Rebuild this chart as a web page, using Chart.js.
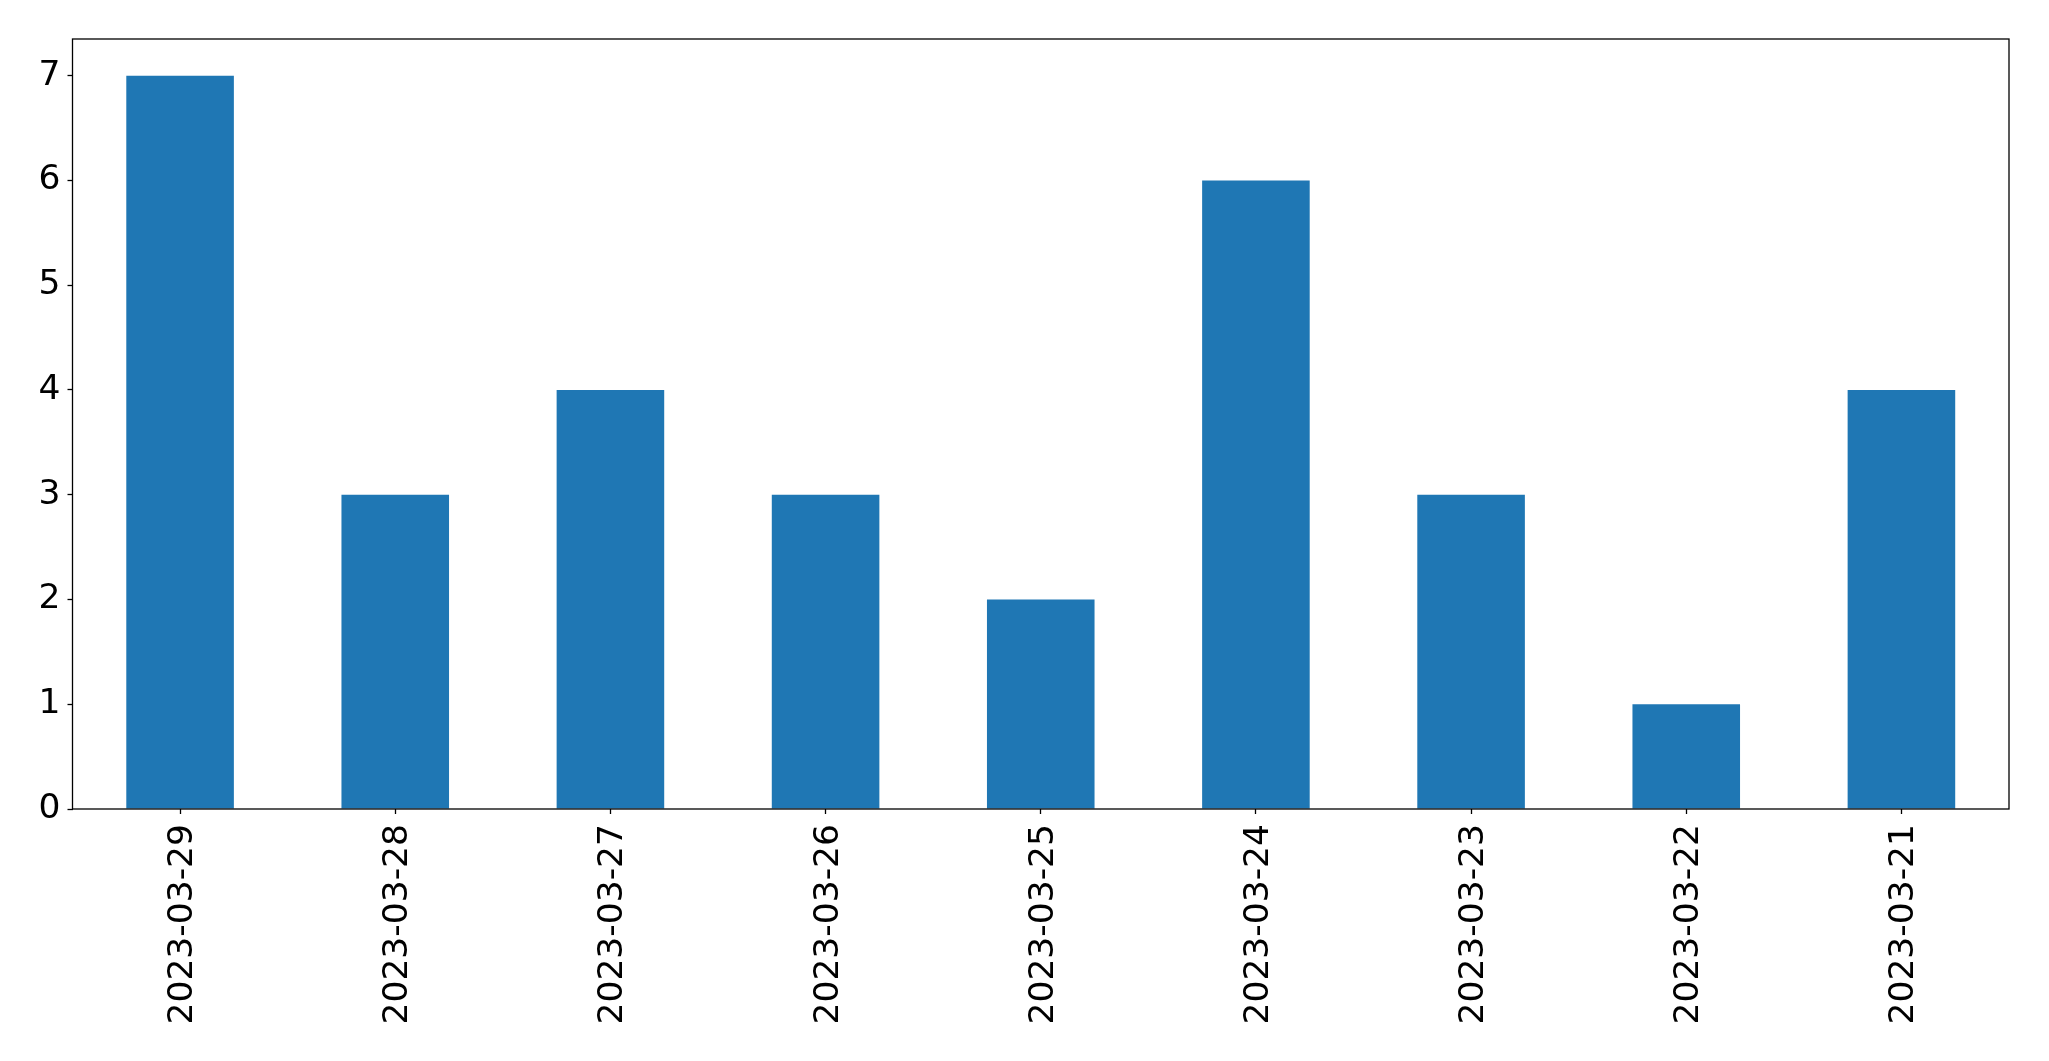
<!DOCTYPE html>
<html>
<head>
<meta charset="utf-8">
<script src="https://cdn.jsdelivr.net/npm/chart.js@4"></script>
<style>
  html, body { margin: 0; padding: 0; background: #fff; }
  #wrap { width: 2049px; height: 1061px; }
</style>
</head>
<body>
<div id="wrap"><canvas id="barChart"></canvas></div>
<script>
const aLabels = ["2023-03-29", "2023-03-28", "2023-03-27", "2023-03-26", "2023-03-25",
                 "2023-03-24", "2023-03-23", "2023-03-22", "2023-03-21"];
const aCounts = [7, 3, 4, 3, 2, 6, 3, 1, 4];
const aYTicks = [0, 1, 2, 3, 4, 5, 6, 7];

const sFont = "'DejaVu Sans', sans-serif";

// box round the plot area, like the matplotlib frame
const frameBox = {
    id: "frameBox",
    afterDraw(chart) {
        const a = chart.chartArea;
        const ctx = chart.ctx;
        ctx.save();
        ctx.strokeStyle = "#000";
        ctx.lineWidth = 1.3;
        ctx.strokeRect(a.left, a.top, a.right - a.left, a.bottom - a.top);
        ctx.restore();
    }
};

let config = {
    type: "bar",
    data: {
        labels: aLabels,
        datasets: [{
            data: aCounts,
            backgroundColor: "#1f77b4",
            borderWidth: 0,
            barPercentage: 0.5,
            categoryPercentage: 1.0
        }]
    },
    options: {
        responsive: true,
        maintainAspectRatio: false,
        animation: false,
        layout: {
            padding: { top: 39, right: 40, left: 0, bottom: 0 }
        },
        plugins: {
            legend: { display: false },
            tooltip: { enabled: false }
        },
        scales: {
            x: {
                border: { display: false },
                grid: {
                    offset: false,
                    drawOnChartArea: false,
                    drawTicks: true,
                    tickLength: 5,
                    tickWidth: 1.3,
                    tickColor: "#000"
                },
                ticks: {
                    autoSkip: false,
                    maxRotation: 90,
                    minRotation: 90,
                    padding: 10,
                    labelOffset: 3,
                    color: "#000",
                    font: { family: sFont, size: 34.5 }
                },
                afterFit(scale) { scale.height = 252; }
            },
            y: {
                min: 0,
                max: 7.35,
                border: { display: false },
                grid: {
                    drawOnChartArea: false,
                    drawTicks: true,
                    tickLength: 5,
                    tickWidth: 1.3,
                    tickColor: "#000"
                },
                ticks: {
                    padding: 7,
                    color: "#000",
                    font: { family: sFont, size: 34.5 }
                },
                afterBuildTicks(scale) {
                    scale.ticks = aYTicks.map(v => ({ value: v }));
                },
                afterFit(scale) { scale.width = 72.5; }
            }
        }
    },
    plugins: [frameBox]
};

new Chart(document.getElementById("barChart").getContext("2d"), config);
</script>
</body>
</html>
